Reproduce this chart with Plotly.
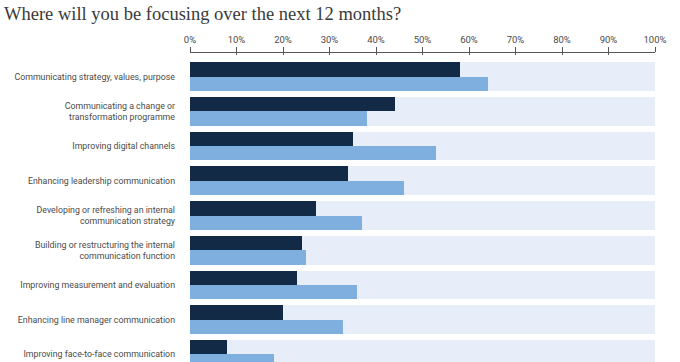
import plotly.graph_objects as go

categories = [
    "Communicating strategy, values, purpose",
    "Communicating a change or<br>transformation programme",
    "Improving digital channels",
    "Enhancing leadership communication",
    "Developing or refreshing an internal<br>communication strategy",
    "Building or restructuring the internal<br>communication function",
    "Improving measurement and evaluation",
    "Enhancing line manager communication",
    "Improving face-to-face communication",
]
series_dark = [58, 44, 35, 34, 27, 24, 23, 20, 8]
series_light = [64, 38, 53, 46, 37, 25, 36, 33, 18]
full_scale = [100] * len(categories)
tick_vals = [0, 10, 20, 30, 40, 50, 60, 70, 80, 90, 100]
tick_text = [f"{v}%" for v in tick_vals]
end_ticks = [0, 100]

pos = list(range(len(categories)))

fig = go.Figure()
fig.add_trace(go.Bar(
    y=pos, x=full_scale, orientation="h", width=0.827, offset=-0.413,
    marker=dict(color="#E7EDF9", line=dict(width=0)), hoverinfo="skip", showlegend=False,
))
fig.add_trace(go.Bar(
    y=pos, x=series_dark, orientation="h", width=0.413, offset=-0.413,
    marker=dict(color="#122A45", line=dict(width=0)), showlegend=False,
))
fig.add_trace(go.Bar(
    y=pos, x=series_light, orientation="h", width=0.414, offset=0.0,
    marker=dict(color="#7EAFDF", line=dict(width=0)), showlegend=False,
))
# invisible carriers for the auxiliary tick axes
fig.add_trace(go.Scatter(x=[], y=[], xaxis="x2", yaxis="y", showlegend=False))
fig.add_trace(go.Scatter(x=[], y=[], xaxis="x3", yaxis="y", showlegend=False))

px_per_row = 34.7
top_px = 53
first_center = 76.7
height = 362
y_top = (top_px - first_center) / px_per_row
y_bot = (height - first_center) / px_per_row

tick_col = "#555555"

fig.update_layout(
    width=680, height=height,
    margin=dict(l=190, r=25, t=top_px, b=0, pad=0, autoexpand=False),
    paper_bgcolor="white", plot_bgcolor="white",
    barmode="overlay", bargap=0,
    title=dict(
        text="Where will you be focusing over the next 12 months?",
        x=4 / 680, xanchor="left", xref="container",
        y=1 - 14 / height, yanchor="middle", yref="container",
        pad=dict(l=0, r=0, t=0, b=0),
        font=dict(family="Liberation Serif", size=18.5, color="#3a3a3a"),
    ),
    xaxis=dict(
        range=[0, 100], side="top", tickvals=tick_vals, ticktext=tick_text,
        showgrid=False, zeroline=False, showline=True, linecolor=tick_col, linewidth=1,
        ticks="outside", ticklen=5, tickcolor=tick_col, tickwidth=1,
        tickfont=dict(family="Roboto", size=9.5, color="#4a4a4a"),
        fixedrange=True, automargin=False,
    ),
    xaxis2=dict(
        overlaying="x", matches="x", range=[0, 100], side="top", anchor="y",
        tickvals=tick_vals, showticklabels=False,
        showgrid=False, zeroline=False, showline=False,
        ticks="inside", ticklen=2, tickcolor=tick_col, tickwidth=1,
        fixedrange=True, automargin=False,
    ),
    xaxis3=dict(
        overlaying="x", matches="x", range=[0, 100], side="top", anchor="y",
        tickvals=end_ticks, showticklabels=False,
        showgrid=False, zeroline=False, showline=False,
        ticks="inside", ticklen=5, tickcolor=tick_col, tickwidth=1,
        fixedrange=True, automargin=False,
    ),
    yaxis=dict(
        range=[y_bot, y_top], tickvals=pos, ticktext=categories,
        showgrid=False, zeroline=False, showline=False, ticks="",
        ticklabelstandoff=14,
        tickfont=dict(family="Roboto", size=8.8, color="#4a4a4a"),
        fixedrange=True, automargin=False,
    ),
)

fig.write_html(
    "out.html",
    config={"displayModeBar": False},
    post_script="document.body.style.margin='0';document.body.style.overflow='hidden';",
)
